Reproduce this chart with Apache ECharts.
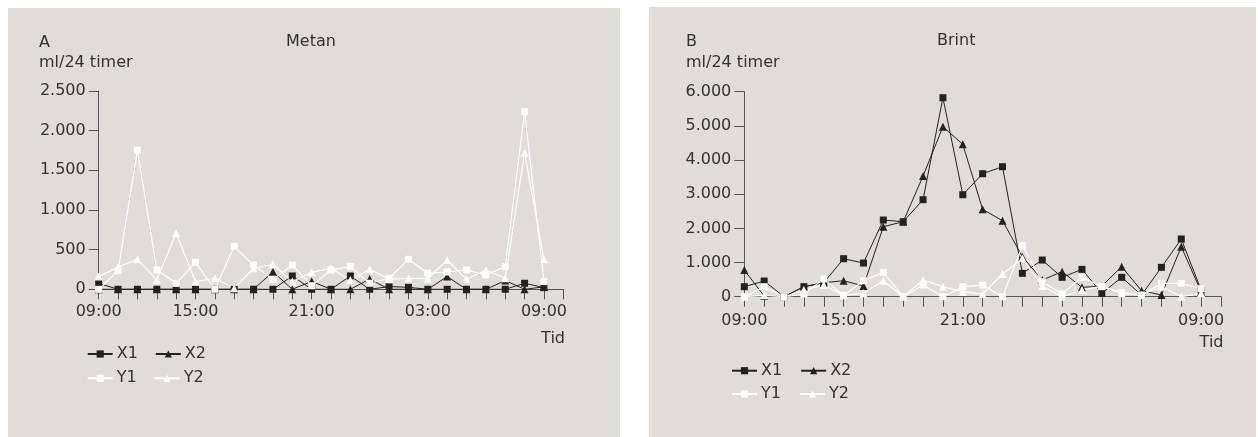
<!DOCTYPE html>
<html>
<head>
<meta charset="utf-8">
<script src="https://cdn.jsdelivr.net/npm/echarts@6/dist/echarts.min.js"></script>
<style>
html,body{margin:0;padding:0;background:#fff;}
#chart{width:1258px;height:437px;}
</style>
</head>
<body>
<div id="chart"></div>
<script>
// ---- data ----
const categories = ['0','1','2','3','4','5','6','7','8','9','10','11','12','13','14','15','16','17','18','19','20','21','22','23','24'];
const tickLabels = ['09:00','','','','','15:00','','','','','','21:00','','','','','','03:00','','','','','','09:00',''];
const seriesNames = ['X1','X2','Y1','Y2'];

// Panel A: Metan (ml/24 timer)
const metanX1 = [75, 0, 0, 0, 0, 0, 0, 0, 0, 0, 168, 0, 0, 168, 0, 34, 25, 0, 0, 0, 0, 0, 76, 21];
const metanX2 = [0, 0, 0, 0, 0, 0, 0, 0, 0, 220, 0, 100, 0, 0, 130, 0, 0, 0, 160, 0, 0, 110, 0, 30];
const metanY1 = [0, 235, 1755, 245, 75, 340, 0, 540, 305, 125, 305, 45, 244, 286, 76, 139, 378, 202, 218, 244, 180, 286, 2239, 97];
const metanY2 = [160, 280, 378, 118, 706, 97, 139, 13, 265, 315, 97, 214, 265, 118, 252, 126, 139, 134, 370, 126, 244, 139, 1722, 378];

// Panel B: Brint (ml/24 timer)
const brintX1 = [293, 459, 0, 293, 410, 1112, 985, 2244, 2195, 2839, 5824, 2985, 3600, 3805, 683, 1073, 566, 800, 98, 566, 49, 859, 1688, 195];
const brintX2 = [780, 20, 0, 293, 410, 468, 312, 2049, 2195, 3532, 4976, 4459, 2556, 2224, 1171, 488, 732, 273, 312, 878, 176, 49, 1463, 146];
const brintY1 = [0, 293, 0, 78, 517, 39, 468, 712, 0, 341, 0, 293, 341, 0, 1493, 439, 78, 566, 293, 127, 49, 390, 390, 234];
const brintY2 = [0, 39, 0, 195, 341, 39, 98, 468, 0, 488, 293, 146, 78, 663, 1122, 312, 0, 195, 312, 98, 49, 293, 0, 98];

const yAxisA = {min: 0, max: 2500, interval: 500};
const yAxisB = {min: 0, max: 6000, interval: 1000};

// ---- styles ----
const FONT = 'DejaVu Sans';
const TXT = '#333';
const AXIS = '#555';
const BG = '#e0dcd7';
const fmtThousands = v => String(v).replace(/\B(?=(\d{3})+(?!\d))/g, '.');

const styles = {
  X1: {color: '#222', symbol: 'rect', size: 7, width: 1},
  X2: {color: '#222', symbol: 'triangle', size: 8, width: 1},
  Y1: {color: '#ffffff', symbol: 'rect', size: 7, width: 1.2},
  Y2: {color: '#ffffff', symbol: 'triangle', size: 8, width: 1.2}
};

function mkSeries(name, data, idx) {
  const s = styles[name];
  return {
    name: name, type: 'line', data: data,
    xAxisIndex: idx, yAxisIndex: idx,
    symbol: s.symbol, symbolSize: s.size, showAllSymbol: true,
    lineStyle: {color: s.color, width: s.width},
    itemStyle: {color: s.color, borderWidth: 0},
    emphasis: {disabled: true},
    animation: false, z: 3
  };
}

function mkX(idx, margin) {
  return {
    type: 'category', gridIndex: idx, data: categories, boundaryGap: false,
    axisLine: {lineStyle: {color: AXIS, width: 1}},
    axisTick: {show: true, interval: 0, length: 10, lineStyle: {color: AXIS}},
    axisLabel: {interval: 0, margin: margin, color: TXT, fontFamily: FONT, fontSize: 16,
      formatter: (v, i) => tickLabels[i]},
    splitLine: {show: false}
  };
}
function mkY(idx, cfg) {
  return {
    type: 'value', gridIndex: idx, min: cfg.min, max: cfg.max, interval: cfg.interval,
    axisLine: {show: true, lineStyle: {color: AXIS, width: 1}},
    axisTick: {show: true, length: 10, lineStyle: {color: AXIS}},
    axisLabel: {margin: 13, color: TXT, fontFamily: FONT, fontSize: 16, formatter: fmtThousands},
    splitLine: {show: false}
  };
}
function mkLegend(names, left, cy, gap) {
  return {
    data: names, left: left, top: cy - 9, orient: 'horizontal', padding: 0,
    itemWidth: 25, itemHeight: 9, itemGap: gap, selectedMode: false,
    textStyle: {color: TXT, fontFamily: FONT, fontSize: 16, padding: [0, 0, 0, -1]}
  };
}
function txt(text, x, y, align) {
  return {type: 'text', z: 10, style: {text: text, x: x, y: y, fill: TXT,
    font: '16px "' + FONT + '"', align: align || 'left', verticalAlign: 'middle'}};
}

const chart = echarts.init(document.getElementById('chart'), null, {renderer: 'canvas'});
chart.setOption({
  animation: false,
  backgroundColor: '#ffffff',
  graphic: [
    {type: 'rect', z: -10, shape: {x: 8, y: 8, width: 612, height: 429}, style: {fill: BG}},
    {type: 'rect', z: -10, shape: {x: 649, y: 7, width: 607, height: 430}, style: {fill: BG}},
    txt('A', 39, 42.7), txt('ml/24 timer', 39, 63.3), txt('Metan', 286, 42),
    txt('B', 686, 41.7), txt('ml/24 timer', 686, 63.3), txt('Brint', 937, 40.7),
    txt('Tid', 565, 339.3, 'right'), txt('Tid', 1223.5, 342.7, 'right')
  ],
  grid: [
    {left: 98.7, top: 91, width: 464.6, height: 198.3},
    {left: 744.3, top: 91.7, width: 476.7, height: 205}
  ],
  xAxis: [mkX(0, 15), mkX(1, 16)],
  yAxis: [mkY(0, yAxisA), mkY(1, yAxisB)],
  legend: [
    mkLegend(['X1', 'X2'], 86.7, 355, 17),
    mkLegend(['Y1', 'Y2'], 86.7, 379.3, 17),
    mkLegend(['X1', 'X2'], 731, 371.7, 18),
    mkLegend(['Y1', 'Y2'], 731, 395, 18)
  ],
  series: [
    mkSeries('X1', metanX1, 0), mkSeries('X2', metanX2, 0),
    mkSeries('Y1', metanY1, 0), mkSeries('Y2', metanY2, 0),
    mkSeries('X1', brintX1, 1), mkSeries('X2', brintX2, 1),
    mkSeries('Y1', brintY1, 1), mkSeries('Y2', brintY2, 1)
  ]
});
</script>
</body>
</html>
